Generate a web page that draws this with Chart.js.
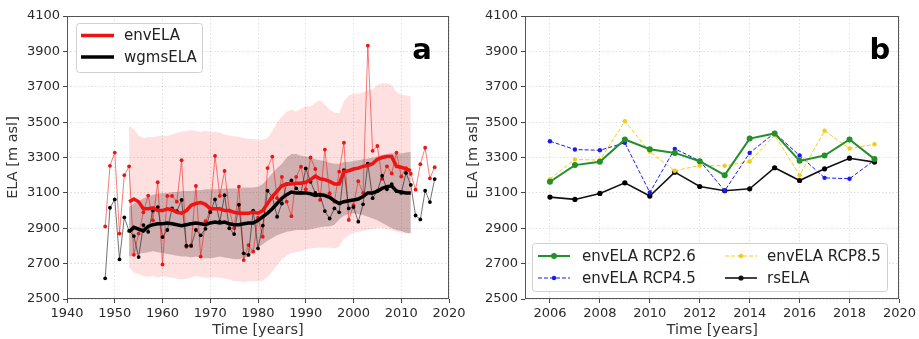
<!DOCTYPE html>
<html><head><meta charset="utf-8">
<script src="https://cdn.jsdelivr.net/npm/chart.js@4"></script>
<style>
html,body{margin:0;padding:0;background:#fff;width:919px;height:339px;overflow:hidden}
#ca{position:absolute;left:0;top:0}
#cb{position:absolute;left:460px;top:0}
</style></head><body>
<canvas id="ca" width="470" height="339"></canvas>
<canvas id="cb" width="459" height="339"></canvas>
<script>
// ---------- Panel a data ----------
const yearsAnnual = [1948,1949,1950,1951,1952,1953,1954,1955,1956,1957,1958,1959,1960,1961,1962,1963,1964,1965,1966,1967,1968,1969,1970,1971,1972,1973,1974,1975,1976,1977,1978,1979,1980,1981,1982,1983,1984,1985,1986,1987,1988,1989,1990,1991,1992,1993,1994,1995,1996,1997,1998,1999,2000,2001,2002,2003,2004,2005,2006,2007,2008,2009,2010,2011,2012,2013,2014,2015,2016,2017];
const envELA = [2910,3253,3328,2870,3200,3250,2750,2870,2990,3085,2945,3160,2695,3083,3083,3050,3285,2795,2805,3139,2740,2940,3000,3309,3083,3224,3000,2900,3135,2720,2805,2768,2960,2852,3240,3305,3070,3190,3050,2968,3190,3248,3120,3300,3235,3060,3345,3098,3050,3220,3384,2947,3030,3166,3100,3933,3338,3365,3180,3250,3210,3328,3192,3240,3208,3118,3262,3355,3182,3245];
const wgmsELA = [2617,3016,3063,2724,2961,2885,2856,2737,2918,2880,3000,3020,2850,2890,3012,2997,3060,2801,2800,2890,2860,2897,2991,3063,2937,3087,2900,2867,3033,2758,2749,3000,2786,2915,3112,3077,2965,3040,3150,3170,3125,3100,3238,3163,3100,3088,2997,2955,3012,2990,3228,3012,3020,2937,3035,3265,3070,3110,3197,3120,3150,3110,3100,3213,3145,2972,2950,3112,3048,3178];
const yearsSmooth = [1953,1954,1955,1956,1957,1958,1959,1960,1961,1962,1963,1964,1965,1966,1967,1968,1969,1970,1971,1972,1973,1974,1975,1976,1977,1978,1979,1980,1981,1982,1983,1984,1985,1986,1987,1988,1989,1990,1991,1992,1993,1994,1995,1996,1997,1998,1999,2000,2001,2002,2003,2004,2005,2006,2007,2008,2009,2010,2011,2012];
const envSmooth = [3050,3065,3050,3010,3010,3015,3000,3000,3010,3005,2990,2985,3000,3030,3040,3045,3035,3010,3010,3010,3000,3000,2990,2985,2985,2985,2990,2985,3000,3040,3080,3110,3140,3150,3150,3155,3155,3160,3175,3195,3180,3175,3165,3150,3150,3220,3225,3235,3240,3250,3255,3265,3290,3300,3305,3305,3250,3245,3235,3225];
const wgmsSmooth = [2880,2905,2895,2885,2910,2920,2925,2925,2930,2925,2920,2915,2920,2925,2930,2925,2920,2930,2935,2930,2935,2925,2920,2920,2925,2930,2930,2945,2965,2985,3010,3040,3070,3090,3105,3100,3100,3100,3095,3085,3090,3085,3075,3055,3040,3050,3055,3060,3065,3080,3100,3100,3110,3125,3135,3140,3110,3105,3100,3100];
const envUpper = [3480,3460,3425,3410,3415,3415,3420,3425,3420,3430,3440,3445,3450,3455,3450,3445,3450,3445,3445,3440,3430,3425,3420,3418,3410,3405,3405,3400,3400,3410,3450,3500,3530,3560,3570,3560,3575,3590,3590,3610,3625,3600,3570,3555,3550,3620,3650,3660,3660,3670,3680,3685,3710,3720,3720,3710,3670,3655,3650,3645];
const envLower = [2680,2650,2640,2630,2625,2630,2620,2630,2625,2620,2615,2610,2615,2620,2630,2625,2620,2620,2625,2620,2615,2610,2600,2600,2595,2600,2600,2600,2605,2625,2655,2690,2725,2745,2760,2765,2770,2780,2785,2790,2790,2790,2790,2785,2795,2840,2860,2875,2880,2885,2890,2895,2900,2900,2895,2890,2880,2875,2870,2870];
const wgmsUpper = [3020,3040,3050,3070,3080,3090,3095,3100,3100,3105,3105,3110,3110,3110,3115,3115,3120,3120,3120,3120,3125,3125,3125,3125,3130,3130,3130,3135,3150,3180,3210,3240,3265,3300,3320,3320,3310,3305,3300,3290,3285,3280,3270,3265,3265,3275,3275,3280,3285,3290,3295,3300,3305,3315,3320,3325,3320,3322,3328,3332];
const wgmsLower = [2740,2745,2755,2760,2765,2770,2765,2760,2755,2750,2745,2740,2740,2735,2740,2735,2730,2730,2735,2740,2735,2730,2725,2725,2730,2740,2760,2790,2810,2830,2845,2860,2870,2880,2885,2890,2890,2890,2895,2900,2905,2910,2910,2920,2950,2970,2980,2985,2980,2975,2965,2955,2945,2930,2915,2900,2890,2885,2875,2870];
const xTicksA = [1940,1950,1960,1970,1980,1990,2000,2010,2020];
const yTicks = [2500,2700,2900,3100,3300,3500,3700,3900,4100];

// ---------- Panel b data ----------
const yearsB = [2006,2007,2008,2009,2010,2011,2012,2013,2014,2015,2016,2017,2018,2019];
const rcp26 = [3163,3257,3276,3402,3347,3326,3279,3200,3407,3436,3281,3311,3402,3291];
const rcp45 = [3392,3345,3341,3383,3102,3349,3281,3112,3326,3439,3311,3185,3180,3285];
const rcp85 = [3178,3289,3285,3505,3332,3225,3255,3253,3277,3426,3200,3451,3351,3375];
const rsELA = [3076,3063,3097,3157,3082,3217,3136,3112,3123,3242,3170,3236,3296,3274];
const xTicksB = [2006,2008,2010,2012,2014,2016,2018,2020];

const FONT = "'DejaVu Sans', sans-serif";
const pts = (xs, ys) => xs.map((x, i) => ({x: x, y: ys[i]}));

const framePlugin = {
  id: 'frame',
  afterDraw(chart, args, opts) {
    const {ctx, chartArea: a} = chart;
    ctx.save();
    ctx.strokeStyle = '#555';
    ctx.lineWidth = 1;
    ctx.strokeRect(Math.round(a.left) + 0.5, Math.round(a.top) + 0.5, Math.round(a.right - a.left) - 1, Math.round(a.bottom - a.top) - 1);
    ctx.fillStyle = '#000';
    ctx.font = "bold 29px " + FONT;
    ctx.textAlign = 'center';
    ctx.textBaseline = 'alphabetic';
    ctx.fillText(opts.letter, opts.lx, 59);
    const L = opts.legend;
    ctx.beginPath();
    const r = 3, x0 = L.box[0], y0 = L.box[1], x1 = L.box[2], y1 = L.box[3];
    ctx.moveTo(x0 + r, y0); ctx.lineTo(x1 - r, y0); ctx.quadraticCurveTo(x1, y0, x1, y0 + r);
    ctx.lineTo(x1, y1 - r); ctx.quadraticCurveTo(x1, y1, x1 - r, y1);
    ctx.lineTo(x0 + r, y1); ctx.quadraticCurveTo(x0, y1, x0, y1 - r);
    ctx.lineTo(x0, y0 + r); ctx.quadraticCurveTo(x0, y0, x0 + r, y0);
    ctx.closePath();
    ctx.fillStyle = 'rgba(255,255,255,0.85)';
    ctx.fill();
    ctx.strokeStyle = '#d0d0d0';
    ctx.lineWidth = 1;
    ctx.stroke();
    L.items.forEach(it => {
      ctx.beginPath();
      ctx.setLineDash(it.dash || []);
      ctx.strokeStyle = it.color;
      ctx.lineWidth = it.width;
      ctx.moveTo(it.x, it.y); ctx.lineTo(it.x + it.len, it.y);
      ctx.stroke();
      ctx.setLineDash([]);
      if (it.marker) {
        ctx.beginPath();
        ctx.fillStyle = it.color;
        ctx.arc(it.x + it.len / 2, it.y, it.marker, 0, Math.PI * 2);
        ctx.fill();
      }
      ctx.fillStyle = '#222';
      ctx.font = "15px " + FONT;
      ctx.textAlign = 'left';
      ctx.textBaseline = 'middle';
      ctx.fillText(it.label, it.tx, it.y + 1);
    });
    ctx.restore();
  }
};

function axes(xmin, xmax, xticks, yWidth) {
  const tickFont = {family: FONT, size: 13};
  const titleFont = {family: FONT, size: 14.5};
  return {
    x: {
      type: 'linear', min: xmin, max: xmax,
      afterBuildTicks: s => { s.ticks = xticks.map(v => ({value: v})); },
      afterFit: s => { s.height = 40; },
      ticks: {color: '#2a2a2a', font: tickFont, padding: 3, maxRotation: 0, autoSkip: false, callback: v => String(v)},
      grid: {color: 'rgba(0,0,0,0.12)', lineWidth: 1, borderDash: [1.5, 2], tickColor: '#444', tickLength: 4, tickBorderDash: []},
      border: {display: false, dash: [1.5, 2]},
      title: {display: true, text: 'Time [years]', color: '#333', font: titleFont, padding: {top: 0, bottom: 0}}
    },
    y: {
      type: 'linear', min: 2500, max: 4100,
      afterBuildTicks: s => { s.ticks = yTicks.map(v => ({value: v})); },
      afterFit: s => { s.width = yWidth; },
      ticks: {color: '#2a2a2a', font: tickFont, padding: 3, autoSkip: false, callback: v => String(v)},
      grid: {color: 'rgba(0,0,0,0.12)', lineWidth: 1, borderDash: [1.5, 2], tickColor: '#444', tickLength: 4, tickBorderDash: []},
      border: {display: false, dash: [1.5, 2]},
      title: {display: true, text: 'ELA [m asl]', color: '#333', font: titleFont, padding: {top: 5, bottom: 0}}
    }
  };
}

const RED = 'rgb(238,20,20)';

new Chart(document.getElementById('ca'), {
  type: 'line',
  data: {
    datasets: [
      {label: 'envELA', data: pts(yearsSmooth, envSmooth), borderColor: RED, borderWidth: 3.5, pointRadius: 0, fill: false},
      {label: 'wgmsELA', data: pts(yearsSmooth, wgmsSmooth), borderColor: '#000', borderWidth: 3.5, pointRadius: 0, fill: false},
      {label: 'wgmsELA annual', data: pts(yearsAnnual, wgmsELA), borderColor: 'rgba(20,20,20,0.85)', borderWidth: 0.7, pointRadius: 1.9, pointBorderWidth: 0, pointBackgroundColor: '#000', fill: false},
      {label: 'envELA annual', data: pts(yearsAnnual, envELA), borderColor: 'rgba(238,20,20,0.8)', borderWidth: 0.7, pointRadius: 1.9, pointBorderWidth: 0, pointBackgroundColor: RED, fill: false},
      {label: 'wgms upper', data: pts(yearsSmooth, wgmsUpper), borderWidth: 0, borderColor: 'rgba(0,0,0,0)', pointRadius: 0, fill: '+1', backgroundColor: 'rgba(40,0,0,0.22)'},
      {label: 'wgms lower', data: pts(yearsSmooth, wgmsLower), borderWidth: 0, borderColor: 'rgba(0,0,0,0)', pointRadius: 0, fill: false},
      {label: 'env upper', data: pts(yearsSmooth, envUpper), borderWidth: 0, borderColor: 'rgba(0,0,0,0)', pointRadius: 0, fill: '+1', backgroundColor: 'rgba(245,0,0,0.12)'},
      {label: 'env lower', data: pts(yearsSmooth, envLower), borderWidth: 0, borderColor: 'rgba(0,0,0,0)', pointRadius: 0, fill: false}
    ]
  },
  options: {
    responsive: false, animation: false, devicePixelRatio: 1,
    layout: {padding: {top: 16, right: 21, left: 0, bottom: 0}},
    elements: {line: {tension: 0}},
    scales: axes(1940, 2020, xTicksA, 67),
    plugins: {
      legend: {display: false}, tooltip: {enabled: false},
      filler: {drawTime: 'beforeDatasetsDraw'},
      frame: {
        letter: 'a', lx: 422,
        legend: {
          box: [76.5, 23.5, 202.5, 72.5],
          items: [
            {label: 'envELA', color: RED, width: 3.5, x: 81, len: 33, y: 35.5, tx: 124},
            {label: 'wgmsELA', color: '#000', width: 3.5, x: 81, len: 33, y: 57, tx: 124}
          ]
        }
      }
    }
  },
  plugins: [framePlugin]
});

const GREEN = '#23902a', BLUE = '#1a1aee', GOLD = '#f2cc1a';
new Chart(document.getElementById('cb'), {
  type: 'line',
  data: {
    datasets: [
      {label: 'envELA RCP2.6', data: pts(yearsB, rcp26), borderColor: GREEN, borderWidth: 2, pointRadius: 3, pointBorderWidth: 0, pointBackgroundColor: GREEN},
      {label: 'envELA RCP4.5', data: pts(yearsB, rcp45), borderColor: BLUE, borderWidth: 1, borderDash: [4, 2], pointRadius: 2.2, pointBorderWidth: 0, pointBackgroundColor: BLUE},
      {label: 'envELA RCP8.5', data: pts(yearsB, rcp85), borderColor: GOLD, borderWidth: 1, borderDash: [4, 2], pointRadius: 2.2, pointBorderWidth: 0, pointBackgroundColor: GOLD},
      {label: 'rsELA', data: pts(yearsB, rsELA), borderColor: '#111', borderWidth: 1.6, pointRadius: 2.6, pointBorderWidth: 0, pointBackgroundColor: '#000'}
    ]
  },
  options: {
    responsive: false, animation: false, devicePixelRatio: 1,
    layout: {padding: {top: 16, right: 12, left: 0, bottom: 0}},
    elements: {line: {tension: 0}},
    scales: axes(2005, 2020, xTicksB, 65),
    plugins: {
      legend: {display: false}, tooltip: {enabled: false},
      frame: {
        letter: 'b', lx: 420,
        legend: {
          box: [72.5, 243.5, 427.5, 291.5],
          items: [
            {label: 'envELA RCP2.6', color: GREEN, width: 2, marker: 3, x: 78, len: 32, y: 256, tx: 122},
            {label: 'envELA RCP4.5', color: BLUE, width: 1, dash: [4, 2], marker: 2.2, x: 78, len: 32, y: 278, tx: 122},
            {label: 'envELA RCP8.5', color: GOLD, width: 1, dash: [4, 2], marker: 2.2, x: 265, len: 32, y: 256, tx: 307},
            {label: 'rsELA', color: '#111', width: 1.6, marker: 2.6, x: 265, len: 32, y: 278, tx: 307}
          ]
        }
      }
    }
  },
  plugins: [framePlugin]
});
</script>
</body></html>
